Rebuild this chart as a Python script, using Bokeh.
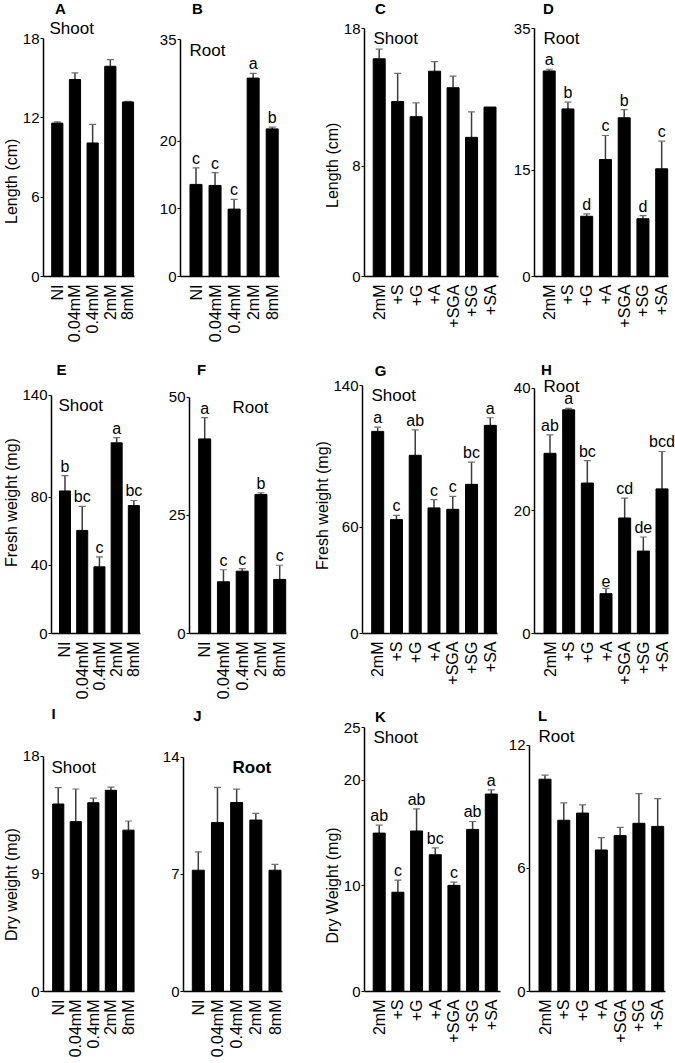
import math
from bokeh.plotting import figure
from bokeh.models import (Range1d, FixedTicker, Label, LabelSet, ColumnDataSource,
                          Whisker, TeeHead, Title)
from bokeh.layouts import row, column
from bokeh.core.properties import value
from bokeh.embed import file_html
from bokeh.resources import INLINE

FONT = "Liberation Sans"

# ---------------- data ----------------
conc = ["NI", "0.04mM", "0.4mM", "2mM", "8mM"]
treat = ["2mM", "+S", "+G", "+A", "+SGA", "+SG", "+SA"]

# A: shoot length vs concentration
a_val = [11.6, 14.9, 10.1, 15.9, 13.2]
a_err = [11.7, 15.4, 11.5, 16.4, 13.25]
# B: root length vs concentration
b_val = [13.6, 13.45, 9.95, 29.3, 21.8]
b_err = [16.05, 15.35, 11.4, 30.0, 22.05]
b_let = ["c", "c", "c", "a", "b"]
# C: shoot length vs treatment
c_val = [15.8, 12.7, 11.6, 14.9, 13.7, 10.1, 12.3]
c_err = [16.5, 14.75, 12.6, 15.6, 14.55, 11.95, None]
# D: root length vs treatment
d_val = [29.0, 23.65, 8.5, 16.5, 22.4, 8.15, 15.2]
d_err = [29.25, 24.6, 8.85, 19.9, 23.55, 8.6, 19.1]
d_let = ["a", "b", "d", "c", "b", "d", "c"]
# E: shoot fresh weight vs concentration
e_val = [83.8, 60.6, 39.2, 112.1, 75.2]
e_err = [92.8, 74.7, 45.0, 115.2, 78.2]
e_let = ["b", "bc", "c", "a", "bc"]
# F: root fresh weight vs concentration
f_val = [41.2, 10.95, 13.2, 29.45, 11.45]
f_err = [45.7, 13.5, 13.75, 29.8, 14.45]
f_let = ["a", "c", "c", "b", "c"]
# G: shoot fresh weight vs treatment
g_val = [114.1, 64.3, 100.6, 70.9, 70.1, 84.2, 117.5]
g_err = [116.5, 66.7, 115.0, 75.6, 77.4, 96.8, 121.8]
g_let = ["a", "c", "ab", "c", "c", "bc", "a"]
# H: root fresh weight vs treatment
h_val = [29.4, 36.5, 24.55, 6.5, 18.85, 13.45, 23.6]
h_err = [32.4, 36.75, 28.2, 7.35, 22.1, 15.75, 29.7]
h_let = ["ab", "a", "bc", "e", "cd", "de", "bcd"]
# I: shoot dry weight vs concentration
i_val = [14.35, 13.0, 14.45, 15.4, 12.35]
i_err = [15.6, 15.5, 14.8, 15.65, 13.05]
# J: root dry weight vs concentration
j_val = [7.25, 10.1, 11.3, 10.25, 7.25]
j_err = [8.35, 12.2, 12.1, 10.65, 7.6]
# K: shoot dry weight vs treatment
k_val = [15.0, 9.4, 15.2, 12.95, 10.05, 15.35, 18.7]
k_err = [15.75, 10.55, 17.3, 13.6, 10.35, 16.1, 19.1]
k_let = ["ab", "c", "ab", "bc", "c", "ab", "a"]
# L: root dry weight vs treatment
l_val = [10.35, 8.35, 8.7, 6.9, 7.6, 8.2, 8.05]
l_err = [10.55, 9.2, 9.1, 7.5, 8.0, 9.65, 9.4]

# ---------------- layout (page pixels) ----------------
COLS = [0, 152, 308, 505, 675]
ROWS = [0, 355, 705, 1063]

# y-title: (text, centre y on page, approx text length px)
specs = [
    dict(tag="A", cell=(0, 0), frame=(35, 133, 38, 276), centers=(49.8, 125.7), cats=conc,
         vals=a_val, errs=a_err, lets=None, ymax=18, ticks=[0, 6, 12, 18],
         tissue=("Shoot", 41, 28, False), tagpos=(52, 8), ytitle=("Length (cm)", 181, 85)),
    dict(tag="B", cell=(1, 0), frame=(180, 279, 39, 276), centers=(195.5, 271.7), cats=conc,
         vals=b_val, errs=b_err, lets=b_let, ymax=35, ticks=[0, 10, 20, 35],
         tissue=("Root", 189, 50, False), tagpos=(197, 8), ytitle=None),
    dict(tag="C", cell=(2, 0), frame=(364, 498, 28, 276), centers=(378.7, 489.5), cats=treat,
         vals=c_val, errs=c_err, lets=None, ymax=18, ticks=[0, 8, 18],
         tissue=("Shoot", 373, 38, False), tagpos=(380, 8), ytitle=("Length (cm)", 165, 85)),
    dict(tag="D", cell=(3, 0), frame=(534, 668, 28, 276), centers=(548.7, 661.2), cats=treat,
         vals=d_val, errs=d_err, lets=d_let, ymax=35, ticks=[0, 15, 35],
         tissue=("Root", 543, 38, False), tagpos=(548, 8), ytitle=None),
    dict(tag="E", cell=(0, 1), frame=(42, 139, 395, 634), centers=(56.7, 131.7), cats=conc,
         vals=e_val, errs=e_err, lets=e_let, ymax=140, ticks=[0, 40, 80, 140],
         tissue=("Shoot", 49, 406, False), tagpos=(52, 370), ytitle=("Fresh weight (mg)", 503, 129)),
    dict(tag="F", cell=(1, 1), frame=(189, 286, 397, 634), centers=(204.2, 279.2), cats=conc,
         vals=f_val, errs=f_err, lets=f_let, ymax=50, ticks=[0, 25, 50],
         tissue=("Root", 232, 408, False), tagpos=(201, 370), ytitle=None),
    dict(tag="G", cell=(2, 1), frame=(362, 497, 385, 633), centers=(377.2, 489.8), cats=treat,
         vals=g_val, errs=g_err, lets=g_let, ymax=140, ticks=[0, 60, 140],
         tissue=("Shoot", 371, 395, False), tagpos=(380, 370), ytitle=("Fresh weight (mg)", 505, 129)),
    dict(tag="H", cell=(3, 1), frame=(534, 668, 388, 634), centers=(549.5, 661.5), cats=treat,
         vals=h_val, errs=h_err, lets=h_let, ymax=40, ticks=[0, 20, 40],
         tissue=("Root", 543, 387, False), tagpos=(546, 370), ytitle=None),
    dict(tag="I", cell=(0, 2), frame=(35, 133, 756, 992), centers=(50.8, 126.2), cats=conc,
         vals=i_val, errs=i_err, lets=None, ymax=18, ticks=[0, 9, 18],
         tissue=("Shoot", 43, 768, False), tagpos=(45, 714), ytitle=("Dry weight (mg)", 885, 113)),
    dict(tag="J", cell=(1, 2), frame=(183, 282, 757, 992), centers=(197.8, 274.5), cats=conc,
         vals=j_val, errs=j_err, lets=None, ymax=14, ticks=[0, 7, 14],
         tissue=("Root", 232, 768, True), tagpos=(197, 716), ytitle=None),
    dict(tag="K", cell=(2, 2), frame=(364, 500, 727, 991), centers=(378.7, 490.8), cats=treat,
         vals=k_val, errs=k_err, lets=k_let, ymax=25, ticks=[0, 10, 20, 25],
         tissue=("Shoot", 373, 737, False), tagpos=(380, 716), ytitle=("Dry Weight (mg)", 885, 116)),
    dict(tag="L", cell=(3, 2), frame=(529, 665, 745, 992), centers=(544.5, 657.2), cats=treat,
         vals=l_val, errs=l_err, lets=None, ymax=12, ticks=[0, 6, 12],
         tissue=("Root", 538, 737, False), tagpos=(542, 716), ytitle=None),
]


def make_panel(s):
    ci, ri = s["cell"]
    fl, fr = COLS[ci], COLS[ci + 1]
    ft, fb = ROWS[ri], ROWS[ri + 1]
    X0, X1, Yt, Yb = s["frame"]
    c0, c1 = s["centers"]
    cats = s["cats"]
    n = len(cats)
    step = (c1 - c0) / (n - 1)
    x_start = -(c0 - X0) / step
    x_axis_end = (n - 1) + (X1 - c1) / step
    x_end = (n - 1) + (fr - c1) / step
    ymax = s["ymax"]
    y_end = ymax * (Yb - ft) / (Yb - Yt)
    p = figure(width=fr - fl, height=fb - ft,
               x_range=Range1d(x_start, x_end), y_range=Range1d(0, y_end),
               output_backend="svg", toolbar_location=None,
               min_border_left=X0 - fl, min_border_right=0,
               min_border_top=0, min_border_bottom=fb - Yb)
    p.outline_line_color = None
    p.xgrid.visible = False
    p.ygrid.visible = False
    p.background_fill_color = "white"
    p.border_fill_color = "white"

    xs = list(range(n))
    src = ColumnDataSource(dict(x=xs, v=s["vals"]))
    p.vbar(x="x", top="v", width=12.0 / step, source=src,
           fill_color="black", line_color="black")

    wi = [i for i in xs if s["errs"][i] is not None]
    wsrc = ColumnDataSource(dict(x=[xs[i] for i in wi],
                                 v=[s["vals"][i] for i in wi],
                                 e=[s["errs"][i] for i in wi]))
    p.add_layout(Whisker(base="x", lower="v", upper="e", source=wsrc,
                         line_color="#3c3c3c", line_width=1.5, lower_head=None,
                         upper_head=TeeHead(size=7, line_color="#707070", line_width=1.2)))

    if s["lets"]:
        tops = [s["errs"][i] if s["errs"][i] is not None else s["vals"][i] for i in xs]
        lsrc = ColumnDataSource(dict(x=xs, y=tops, t=s["lets"]))
        p.add_layout(LabelSet(x="x", y="y", text="t", source=lsrc, y_offset=1,
                              text_align="center", text_baseline="bottom",
                              text_font=value(FONT), text_font_size="16px",
                              text_color="black"))

    # y axis
    ya = p.yaxis[0]
    ya.ticker = FixedTicker(ticks=s["ticks"])
    ya.bounds = (0, ymax)
    ya.major_tick_out = 3
    ya.major_tick_in = 0
    ya.minor_tick_out = 0
    ya.minor_tick_in = 0
    ya.axis_line_width = 1.5
    ya.axis_line_color = "black"
    ya.major_tick_line_width = 1.2
    ya.major_label_standoff = 1
    ya.major_label_text_font = FONT
    ya.major_label_text_font_size = "15px"
    ya.major_label_text_color = "black"

    # x axis
    xa = p.xaxis[0]
    xa.ticker = FixedTicker(ticks=xs)
    xa.bounds = (x_start, x_axis_end)
    xa.major_label_overrides = {i: cats[i] for i in xs}
    xa.major_label_orientation = math.pi / 2
    xa.major_tick_out = 0
    xa.major_tick_in = 0
    xa.minor_tick_out = 0
    xa.minor_tick_in = 0
    xa.axis_line_width = 1.5
    xa.axis_line_color = "black"
    xa.major_label_standoff = 8
    xa.major_label_text_font = FONT
    xa.major_label_text_font_size = "16px"
    xa.major_label_text_color = "black"

    def put(text, px, py, **kw):
        p.add_layout(Label(x=px - X0, y=Yb - py, x_units="screen", y_units="screen",
                           text=text, text_font=FONT, text_color="black", **kw))

    tname, tx, ty, tbold = s["tissue"]
    put(tname, tx, ty, text_align="left", text_baseline="middle", text_font_size="17px",
        text_font_style="bold" if tbold else "normal")
    put(s["tag"], s["tagpos"][0], s["tagpos"][1], text_align="center",
        text_baseline="middle", text_font_size="15px", text_font_style="bold")
    if s["ytitle"]:
        yt, cy, tlen = s["ytitle"]
        p.add_layout(Title(text=yt, align="left", offset=Yb - cy - tlen / 2.0,
                           vertical_align="bottom", standoff=0,
                           text_font=FONT, text_font_size="16px",
                           text_font_style="normal", text_color="black"), "left")
    return p


figs = [make_panel(s) for s in specs]
layout = column(row(*figs[0:4]), row(*figs[4:8]), row(*figs[8:12]))

with open("out.html", "w") as f:
    f.write(file_html(layout, INLINE, title="Growth panels"))
